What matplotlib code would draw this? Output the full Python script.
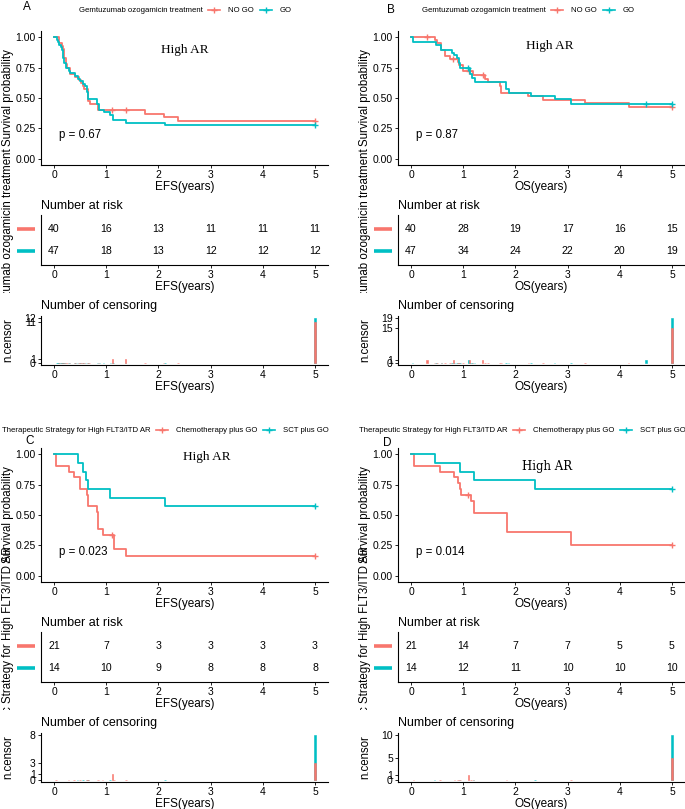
import matplotlib
matplotlib.use("Agg")
import matplotlib.pyplot as plt
import numpy as np
from matplotlib.lines import Line2D
from matplotlib.ticker import FormatStrFormatter
from matplotlib.transforms import Bbox, TransformedBbox, blended_transform_factory

plt.rcParams["font.family"] = ["Liberation Sans", "DejaVu Sans"]

W, H = 685, 809
RED = "#F8766D"
TEAL = "#00BFC4"
YEARS = [0, 1, 2, 3, 4, 5]

# ---- A: EFS, NO GO vs GO ----
a_nogo_t = [0, 0.10, 0.15, 0.18, 0.20, 0.22, 0.25, 0.30, 0.40, 0.48, 0.52, 0.55, 0.58, 0.65, 0.68, 0.85, 1.74, 2.10, 2.38]
a_nogo_s = [1.0, 0.95, 0.925, 0.90, 0.825, 0.775, 0.75, 0.70, 0.675, 0.65, 0.625, 0.60, 0.575, 0.475, 0.45, 0.40, 0.371, 0.343, 0.314]
a_go_t = [0, 0.06, 0.08, 0.10, 0.13, 0.15, 0.17, 0.18, 0.20, 0.22, 0.28, 0.30, 0.40, 0.45, 0.50, 0.55, 0.60, 0.64, 0.66, 0.83, 0.87, 0.95, 1.08, 1.13, 1.37, 2.13]
a_go_s = [1.0, 0.979, 0.957, 0.936, 0.915, 0.894, 0.872, 0.83, 0.787, 0.745, 0.723, 0.702, 0.681, 0.66, 0.638, 0.617, 0.596, 0.553, 0.489, 0.447, 0.404, 0.383, 0.362, 0.319, 0.298, 0.275]
a_nogo_cens_t = [1.12, 1.37, 5.0]
a_nogo_cens_n = [1, 1, 11]
a_go_cens_t = [5.0]
a_go_cens_n = [12]
a_nogo_risk = [40, 16, 13, 11, 11, 11]
a_go_risk = [47, 18, 13, 12, 12, 12]

# ---- B: OS, NO GO vs GO ----
b_nogo_t = [0, 0.45, 0.50, 0.58, 0.65, 0.75, 0.90, 0.92, 1.0, 1.18, 1.42, 1.48, 1.70, 1.73, 2.25, 2.53, 3.33, 4.17]
b_nogo_s = [1.0, 0.974, 0.949, 0.897, 0.846, 0.82, 0.795, 0.769, 0.718, 0.69, 0.66, 0.63, 0.60, 0.545, 0.515, 0.485, 0.455, 0.43]
b_go_t = [0, 0.03, 0.48, 0.58, 0.78, 0.82, 0.88, 0.91, 0.94, 1.13, 1.17, 1.22, 1.82, 1.87, 2.30, 2.75, 3.07]
b_go_s = [1.0, 0.957, 0.936, 0.894, 0.872, 0.851, 0.83, 0.787, 0.745, 0.70, 0.667, 0.63, 0.57, 0.545, 0.52, 0.495, 0.447]
b_nogo_cens_t = [0.31, 0.81, 1.12, 1.37, 5.0]
b_nogo_cens_n = [1, 1, 1, 1, 15]
b_go_cens_t = [1.10, 4.50, 5.0]
b_go_cens_n = [1, 1, 19]
b_nogo_risk = [40, 28, 19, 17, 16, 15]
b_go_risk = [47, 34, 24, 22, 20, 19]

# ---- C: EFS, chemo plus GO vs SCT plus GO ----
c_chemo_t = [0, 0.04, 0.28, 0.38, 0.50, 0.63, 0.65, 0.83, 0.85, 0.93, 1.15, 1.38]
c_chemo_s = [1.0, 0.905, 0.857, 0.81, 0.714, 0.667, 0.571, 0.524, 0.381, 0.333, 0.222, 0.167]
c_sct_t = [0, 0.45, 0.55, 0.62, 0.65, 1.07, 2.13]
c_sct_s = [1.0, 0.929, 0.857, 0.786, 0.714, 0.643, 0.571]
c_chemo_cens_t = [1.12, 5.0]
c_chemo_cens_n = [1, 3]
c_sct_cens_t = [5.0]
c_sct_cens_n = [8]
c_chemo_risk = [21, 7, 3, 3, 3, 3]
c_sct_risk = [14, 10, 9, 8, 8, 8]

# ---- D: OS, chemo plus GO vs SCT plus GO ----
d_chemo_t = [0, 0.05, 0.55, 0.83, 0.90, 0.93, 0.95, 1.15, 1.20, 1.83, 3.07]
d_chemo_s = [1.0, 0.905, 0.857, 0.81, 0.762, 0.714, 0.667, 0.615, 0.513, 0.359, 0.256]
d_sct_t = [0, 0.45, 0.93, 1.20, 2.38]
d_sct_s = [1.0, 0.929, 0.857, 0.786, 0.714]
d_chemo_cens_t = [1.10, 5.0]
d_chemo_cens_n = [1, 5]
d_sct_cens_t = [5.0]
d_sct_cens_n = [10]
d_chemo_risk = [21, 14, 7, 7, 5, 5]
d_sct_risk = [14, 12, 11, 10, 10, 10]

GO_TITLE = "Gemtuzumab ozogamicin treatment"
GO_LABELS = ["NO GO", "GO"]
FLT_TITLE = "Therapeutic Strategy for High FLT3/ITD AR"
FLT_LABELS = ["Chemotherapy plus GO", "SCT plus GO"]


def px_axes(fig, x0, y0, x1, y1):
    return fig.add_axes([x0 / W, 1 - y1 / H, (x1 - x0) / W, (y1 - y0) / H])


def classic(ax, xlab):
    for side in ["top", "right"]:
        ax.spines[side].set_visible(False)
    for side in ["left", "bottom"]:
        ax.spines[side].set_linewidth(0.8)
    ax.tick_params(length=2.2, width=0.6, pad=1.5, labelsize=7.5, colors="black")
    ax.set_xlim(-0.25, 5.25)
    ax.set_xticks(YEARS)
    ax.set_xlabel(xlab, fontsize=8.5, labelpad=0.5)


def vlabel(fig, x, y, text, clip_below=None):
    t = fig.text(x / W, 1 - y / H, text, rotation=90, ha="center", va="center", fontsize=8.3)
    if clip_below is not None:
        t.set_clip_box(TransformedBbox(Bbox([[0, 1 - clip_below / H], [1, 1]]), fig.transFigure))
        t.set_clip_on(True)


def legend_row(fig, x, y, title, labels, colors):
    r = fig.canvas.get_renderer()
    yf = 1 - y / H
    t = fig.text(x / W, yf, title, fontsize=5.6, ha="left", va="center")
    x += t.get_window_extent(r).width + 5
    for lab, col in zip(labels, colors):
        fig.add_artist(Line2D([x / W, (x + 12) / W], [yf, yf], transform=fig.transFigure, color=col, lw=1.2))
        fig.add_artist(Line2D([(x + 6) / W], [yf], transform=fig.transFigure, color=col,
                              marker="+", ms=5, mew=1))
        x += 12 + 8
        t = fig.text(x / W, yf, lab, fontsize=5.6, ha="left", va="center")
        x += t.get_window_extent(r).width + 6


def panel(fig, x0, x1, dy, letter, letter_xy, curves, xlab, ptext, high_xy, high_font,
          table_label, label_x):
    # curves: list of (t, s, cens_t, cens_n, risk, color), red first
    # survival curves
    ax = px_axes(fig, x0, 31 + dy, x1, 165 + dy)
    for t, s, ct, cn, risk, col in curves:
        t = np.array(t)
        s = np.array(s)
        ax.step(np.append(t, 5.0), np.append(s, s[-1]), where="post", color=col, lw=1.3)
        idx = np.searchsorted(t, ct, side="right") - 1
        ax.plot(ct, s[idx], "+", color=col, ms=5, mew=1, ls="none")
    classic(ax, xlab)
    ax.set_ylim(-0.05, 1.05)
    ax.set_yticks([0, 0.25, 0.5, 0.75, 1.0])
    ax.yaxis.set_major_formatter(FormatStrFormatter("%.2f"))
    ax.text(0.1, 0.2, ptext, fontsize=8.3, va="center", ha="left")
    ax.text(high_xy[0], high_xy[1], "High AR", fontsize=high_font[1], family=high_font[0],
            ha="center", va="center")
    vlabel(fig, label_x, 98 + dy, "Survival probability")
    fig.text(letter_xy[0] / W, 1 - letter_xy[1] / H, letter, fontsize=8.5, ha="center", va="center")

    # number at risk table
    ax = px_axes(fig, x0, 215 + dy, x1, 265 + dy)
    blend = blended_transform_factory(ax.transAxes, ax.transData)
    for row, (t, s, ct, cn, risk, col) in zip([2, 1], curves):
        for yr, n in zip(YEARS, risk):
            ax.text(yr, row, str(n), ha="center", va="center", fontsize=7.6)
        ax.plot([-0.084, -0.021], [row, row], transform=blend, color=col, lw=2.6,
                clip_on=False, solid_capstyle="butt")
    classic(ax, xlab)
    ax.set_ylim(0.4, 2.6)
    ax.set_yticks([])
    ax.set_title("Number at risk", loc="left", fontsize=9, pad=4)
    vlabel(fig, label_x, 240 + dy, table_label, clip_below=293 + dy)

    # number of censoring
    ax = px_axes(fig, x0, 316 + dy, x1, 365 + dy)
    counts = []
    for t, s, ct, cn, risk, col in curves[::-1]:
        bt = list(t[1:]) + list(ct)
        bn = [0] * (len(t) - 1) + list(cn)
        ax.bar(bt, bn, width=0.03, color=col, edgecolor=col, lw=0.4)
        counts += bn
    classic(ax, xlab)
    top = max(counts)
    ax.set_ylim(-0.05 * top, 1.05 * top)
    ax.set_yticks(sorted(set(counts)))
    ax.set_title("Number of censoring", loc="left", fontsize=9, pad=5)
    vlabel(fig, label_x, 340 + dy, "n.censor")


fig = plt.figure(figsize=(W / 100, H / 100), dpi=100)

panel(fig, 41, 328, 0, "A", (27, 7),
      [(a_nogo_t, a_nogo_s, a_nogo_cens_t, a_nogo_cens_n, a_nogo_risk, RED),
       (a_go_t, a_go_s, a_go_cens_t, a_go_cens_n, a_go_risk, TEAL)],
      "EFS(years)", "p = 0.67", (2.5, 0.89), ("Liberation Serif", 9.5), GO_TITLE, 8)
panel(fig, 398, 685, 0, "B", (391, 10),
      [(b_nogo_t, b_nogo_s, b_nogo_cens_t, b_nogo_cens_n, b_nogo_risk, RED),
       (b_go_t, b_go_s, b_go_cens_t, b_go_cens_n, b_go_risk, TEAL)],
      "OS(years)", "p = 0.87", (2.65, 0.93), ("Liberation Serif", 9.5), GO_TITLE, 365)
panel(fig, 41, 328, 417, "C", (30, 441),
      [(c_chemo_t, c_chemo_s, c_chemo_cens_t, c_chemo_cens_n, c_chemo_risk, RED),
       (c_sct_t, c_sct_s, c_sct_cens_t, c_sct_cens_n, c_sct_risk, TEAL)],
      "EFS(years)", "p = 0.023", (2.93, 0.975), ("Liberation Serif", 9.5), FLT_TITLE, 8)
panel(fig, 398, 685, 417, "D", (387, 443),
      [(d_chemo_t, d_chemo_s, d_chemo_cens_t, d_chemo_cens_n, d_chemo_risk, RED),
       (d_sct_t, d_sct_s, d_sct_cens_t, d_sct_cens_n, d_sct_risk, TEAL)],
      "OS(years)", "p = 0.014", (2.6, 0.90), ("DejaVu Serif", 8.5), FLT_TITLE, 365)

legend_row(fig, 79, 10, GO_TITLE, GO_LABELS, [RED, TEAL])
legend_row(fig, 422, 10, GO_TITLE, GO_LABELS, [RED, TEAL])
legend_row(fig, 2, 430, FLT_TITLE, FLT_LABELS, [RED, TEAL])
legend_row(fig, 359, 430, FLT_TITLE, FLT_LABELS, [RED, TEAL])

fig.savefig("out.png", dpi=100, facecolor="white")
